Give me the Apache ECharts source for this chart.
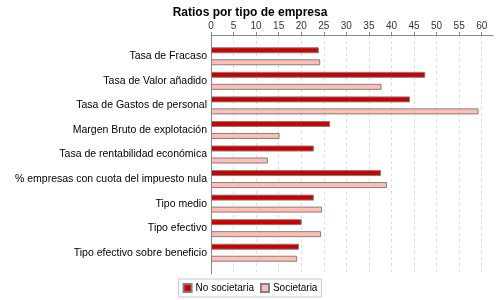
<!DOCTYPE html>
<html>
<head>
<meta charset="utf-8">
<script src="https://cdn.jsdelivr.net/npm/echarts@6/dist/echarts.min.js"></script>
<style>
  html, body { margin: 0; padding: 0; background: #fff; }
  #chart { width: 500px; height: 300px; }
</style>
</head>
<body>
<div id="chart"></div>
<script>
const categories = [
  'Tasa de Fracaso',
  'Tasa de Valor añadido',
  'Tasa de Gastos de personal',
  'Margen Bruto de explotación',
  'Tasa de rentabilidad económica',
  '% empresas con cuota del impuesto nula',
  'Tipo medio',
  'Tipo efectivo',
  'Tipo efectivo sobre beneficio'
]
const noSocietaria = [23.9, 47.5, 44.1, 26.4, 22.8, 37.7, 22.8, 20.1, 19.5]
const societaria = [24.2, 37.8, 59.3, 15.2, 12.6, 39.0, 24.6, 24.4, 19.1]

const font = 'Liberation Sans, Arial, sans-serif'
const axisMax = 62.5
const tickMax = 60

const chart = echarts.init(document.getElementById('chart'))

chart.setOption({
  animation: false,
  title: {
    text: 'Ratios por tipo de empresa',
    left: 'center',
    top: 2,
    textStyle: { fontFamily: font, fontSize: 12, fontWeight: 'bold', color: '#000' }
  },
  legend: {
    bottom: 3,
    left: 'center',
    icon: 'rect',
    itemWidth: 8,
    itemHeight: 8,
    itemGap: 6,
    padding: [4, 4],
    borderColor: '#c8c8c8',
    borderWidth: 1,
    textStyle: { fontFamily: font, fontSize: 10, color: '#000', padding: [0, 0, 0, -1] },
    data: ['No societaria', 'Societaria']
  },
  grid: [
    // ticks and dashed grid lines, 0..60
    { left: 211, right: 500 - (211 + 282 * tickMax / axisMax), top: 35, height: 239 },
    // bars
    { left: 211, right: 7, top: 44, height: 221 },
    // full length axis lines
    { left: 211, right: 7, top: 35, height: 239 }
  ],
  xAxis: [
    {
      gridIndex: 0,
      type: 'value',
      position: 'top',
      min: 0,
      max: tickMax,
      interval: 5,
      axisLine: { show: false, onZero: false },
      axisTick: { show: true, length: 3, lineStyle: { color: '#888' } },
      axisLabel: { fontFamily: font, fontSize: 10, color: '#333', margin: 4 },
      splitLine: { show: true, lineStyle: { color: '#dcdcdc', type: [3, 3] } }
    },
    {
      gridIndex: 1,
      type: 'value',
      min: 0,
      max: axisMax,
      show: false
    },
    {
      gridIndex: 2,
      type: 'value',
      position: 'top',
      min: 0,
      max: axisMax,
      axisLine: { show: true, onZero: false, lineStyle: { color: '#888' } },
      axisTick: { show: false },
      axisLabel: { show: false },
      splitLine: { show: false }
    }
  ],
  yAxis: [
    {
      gridIndex: 0,
      type: 'value',
      min: 0,
      max: 1,
      show: false
    },
    {
      gridIndex: 1,
      type: 'category',
      inverse: true,
      data: categories,
      axisLine: { show: false },
      axisTick: { show: false },
      axisLabel: { fontFamily: font, fontSize: 10.5, color: '#000', margin: 4 }
    },
    {
      gridIndex: 2,
      type: 'value',
      min: 0,
      max: 1,
      axisLine: { show: true, onZero: false, lineStyle: { color: '#888' } },
      axisTick: { show: false },
      axisLabel: { show: false },
      splitLine: { show: false }
    }
  ],
  series: [
    {
      name: 'No societaria',
      type: 'bar',
      xAxisIndex: 1,
      yAxisIndex: 1,
      data: noSocietaria,
      barWidth: 6,
      barGap: '100%',
      itemStyle: { color: '#cc0000', borderColor: '#808080', borderWidth: 1 }
    },
    {
      name: 'Societaria',
      type: 'bar',
      xAxisIndex: 1,
      yAxisIndex: 1,
      data: societaria,
      barWidth: 6,
      barGap: '100%',
      itemStyle: { color: '#ffbdb5', borderColor: '#808080', borderWidth: 1 }
    }
  ]
})
</script>
</body>
</html>
